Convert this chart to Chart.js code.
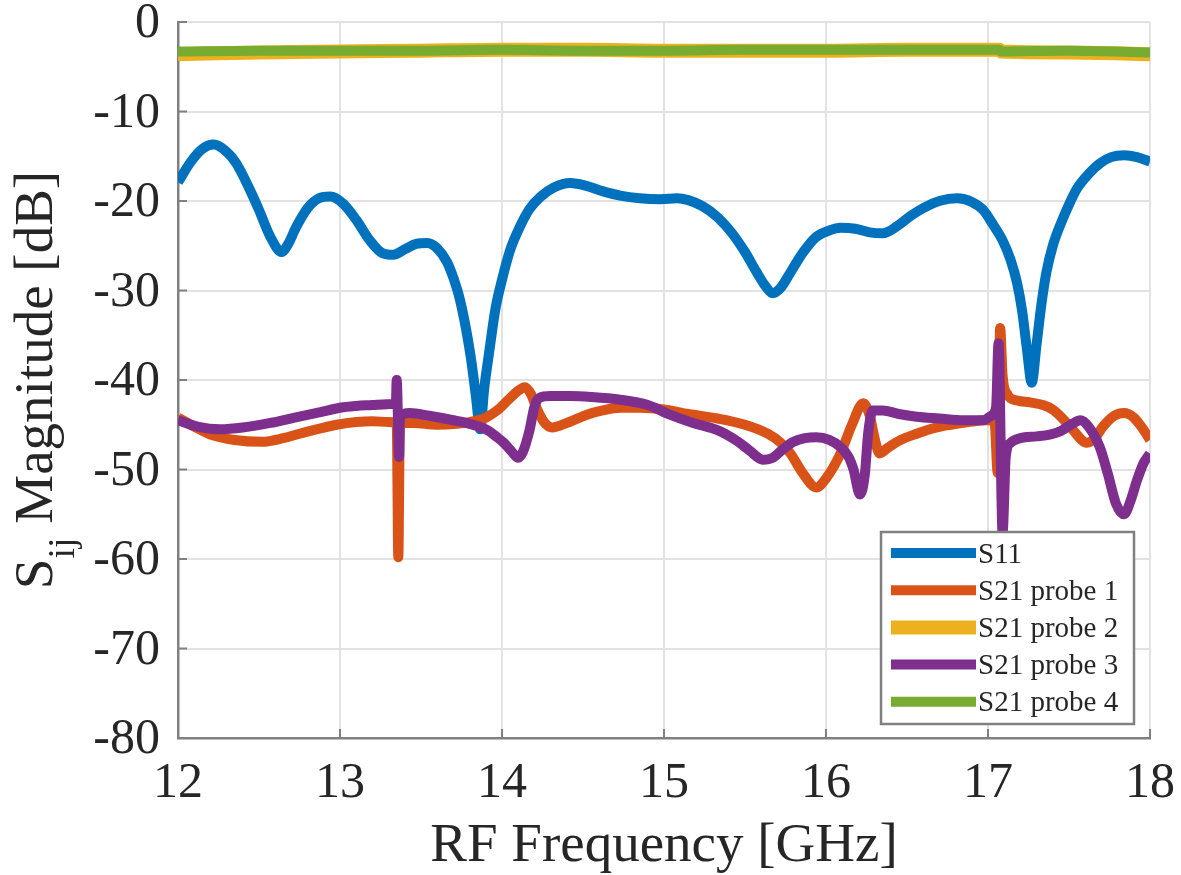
<!DOCTYPE html>
<html>
<head>
<meta charset="utf-8">
<script src="https://cdn.jsdelivr.net/npm/chart.js@4.4.1/dist/chart.umd.min.js"></script>
<style>
  html, body { margin: 0; padding: 0; background: #fff; }
  canvas { display: block; }
</style>
</head>
<body>
<canvas id="sparams" width="1181" height="875"></canvas>
<script>
// values (GHz / dB)
const s11Freq = [12.00, 12.08, 12.15, 12.22, 12.30, 12.36, 12.44, 12.50, 12.57, 12.64, 12.68, 12.73, 12.80, 12.87, 12.94,
  13.02, 13.10, 13.18, 13.26, 13.33, 13.40, 13.47, 13.54, 13.60, 13.66, 13.70, 13.74, 13.78, 13.81, 13.84, 13.865, 13.89,
  13.92, 13.96, 14.00, 14.05, 14.11, 14.17, 14.24, 14.32, 14.42, 14.52, 14.62, 14.73, 14.85, 14.98, 15.08, 15.15, 15.24,
  15.33, 15.42, 15.50, 15.57, 15.63, 15.67, 15.72, 15.78, 15.86, 15.94, 16.02, 16.09, 16.18, 16.27, 16.35, 16.44, 16.52,
  16.60, 16.70, 16.81, 16.90, 16.97, 17.03, 17.09, 17.14, 17.18, 17.21, 17.24, 17.27, 17.30, 17.33, 17.36, 17.40, 17.45,
  17.50, 17.55, 17.62, 17.69, 17.76, 17.84, 17.92, 18.00];
const s11Db = [-17.9, -15.6, -14.2, -13.7, -14.5, -15.8, -18.6, -21.0, -24.0, -25.7, -24.8, -22.9, -20.8, -19.7, -19.5,
  -20.3, -22.1, -24.3, -25.8, -26.0, -25.4, -24.8, -24.7, -25.3, -26.8, -28.6, -31.0, -34.5, -37.8, -42.0, -45.5, -41.0,
  -37.0, -32.0, -28.8, -25.5, -22.9, -20.9, -19.5, -18.5, -18.0, -18.3, -18.9, -19.4, -19.7, -19.8, -19.7, -19.9, -20.6,
  -21.8, -23.6, -25.7, -27.9, -29.6, -30.3, -29.7, -28.0, -25.7, -24.0, -23.3, -23.0, -23.1, -23.5, -23.6, -22.8, -21.7,
  -20.8, -20.0, -19.7, -20.1, -21.0, -22.6, -24.4, -26.6, -29.2, -32.2, -36.5, -40.3, -36.0, -31.5, -28.0, -25.0, -22.5,
  -20.4, -18.6, -17.0, -15.8, -15.1, -14.9, -15.1, -15.6];

const probe1Freq = [12.00, 12.10, 12.20, 12.35, 12.52, 12.65, 12.77, 12.88, 12.98, 13.10, 13.20, 13.30, 13.35, 13.36, 13.37,
  13.45, 13.60, 13.72, 13.80, 13.90, 13.97, 14.04, 14.10, 14.14, 14.18, 14.21, 14.26, 14.31, 14.40, 14.52, 14.62, 14.73,
  14.85, 15.00, 15.15, 15.33, 15.50, 15.64, 15.72, 15.78, 15.86, 15.94, 16.00, 16.09, 16.16, 16.23, 16.27, 16.30, 16.33,
  16.38, 16.45, 16.56, 16.66, 16.77, 16.88, 16.99, 17.04, 17.06, 17.075, 17.09, 17.12, 17.18, 17.26, 17.34, 17.40, 17.45,
  17.52, 17.61, 17.66, 17.71, 17.78, 17.84, 17.90, 17.95, 18.00];
const probe1Db = [-44.2, -45.2, -46.1, -46.7, -46.9, -46.5, -45.9, -45.4, -45.0, -44.7, -44.6, -44.7, -44.8, -59.8, -44.8,
  -44.8, -45.0, -44.9, -44.7, -44.2, -43.4, -42.2, -41.2, -40.8, -41.6, -43.0, -44.7, -45.3, -44.8, -43.9, -43.4, -43.1,
  -43.1, -43.3, -43.8, -44.3, -45.0, -46.0, -47.0, -48.2, -50.5, -52.0, -51.0, -48.2, -45.0, -42.6, -44.0, -46.5, -48.2,
  -47.6, -46.8, -46.0, -45.4, -45.0, -44.7, -44.5, -44.6, -50.4, -34.2, -39.5, -41.6, -42.3, -42.5, -42.8, -43.3, -44.1,
  -45.5, -47.0, -46.5, -45.2, -44.0, -43.7, -44.2, -45.3, -46.7];

const probe2Freq = [12.0, 12.5, 13.0, 13.5, 14.0, 14.5, 15.0, 15.5, 16.0, 16.5, 17.0, 17.07, 17.08, 17.5, 18.0];
const probe2Db = [-3.6, -3.4, -3.3, -3.2, -3.1, -3.1, -3.2, -3.2, -3.2, -3.1, -3.1, -3.1, -3.3, -3.4, -3.6];

const probe3Freq = [12.00, 12.12, 12.26, 12.40, 12.57, 12.72, 12.88, 13.00, 13.10, 13.20, 13.29, 13.345, 13.35, 13.365,
  13.37, 13.43, 13.55, 13.70, 13.80, 13.91, 13.97, 14.01, 14.06, 14.10, 14.13, 14.17, 14.20, 14.23, 14.30, 14.42, 14.55,
  14.73, 14.90, 15.04, 15.18, 15.33, 15.45, 15.53, 15.61, 15.67, 15.73, 15.80, 15.87, 15.94, 16.02, 16.09, 16.14, 16.17,
  16.21, 16.24, 16.26, 16.29, 16.35, 16.45, 16.56, 16.70, 16.85, 16.97, 17.02, 17.05, 17.065, 17.09, 17.11, 17.14, 17.20,
  17.30, 17.38, 17.45, 17.52, 17.57, 17.62, 17.69, 17.74, 17.79, 17.84, 17.88, 17.92, 17.96, 18.00];
const probe3Db = [-44.5, -45.2, -45.5, -45.3, -44.8, -44.2, -43.6, -43.1, -42.9, -42.8, -42.7, -42.6, -40.0, -48.6,
  -44.0, -43.7, -44.0, -44.5, -44.9, -45.6, -46.4, -47.0, -48.0, -48.7, -48.0, -45.6, -43.0, -42.0, -41.8, -41.8, -41.9,
  -42.2, -42.8, -43.9, -44.8, -45.6, -46.8, -47.9, -48.9, -48.7, -47.8, -46.9, -46.5, -46.4, -46.7, -47.5, -48.6, -50.0,
  -52.8, -50.5, -46.0, -43.4, -43.4, -43.8, -44.1, -44.3, -44.5, -44.5, -44.0, -43.0, -35.9, -57.0, -48.5, -47.0, -46.5,
  -46.3, -46.1, -45.7, -44.9, -44.5, -45.2, -47.5, -50.5, -53.8, -55.0, -53.5, -51.2, -49.3, -48.2];

const probe4Freq = [12.0, 12.5, 13.0, 13.5, 14.0, 14.5, 15.0, 15.5, 16.0, 16.5, 17.0, 17.07, 17.08, 17.5, 18.0];
const probe4Db = [-3.3, -3.2, -3.2, -3.2, -3.1, -3.2, -3.2, -3.1, -3.1, -3.1, -3.1, -3.1, -3.3, -3.2, -3.4];

const seriesNames = ['S11', 'S21 probe 1', 'S21 probe 2', 'S21 probe 3', 'S21 probe 4'];
const seriesColors = ['#0072BD', '#D95319', '#EDB120', '#7E2F8E', '#77AC30'];

const serif = "'Liberation Serif', 'Times New Roman', serif";
const textColor = '#262626';
const axisColor = '#808080';

function toPoints(freq, db) {
  return freq.map(function (f, i) { return { x: f, y: db[i] }; });
}

// small inward tick marks, like the MATLAB axes
const innerTicks = {
  id: 'innerTicks',
  afterDraw(chart) {
    const ctx = chart.ctx;
    const a = chart.chartArea;
    ctx.save();
    ctx.strokeStyle = axisColor;
    ctx.lineWidth = 2;
    chart.scales.y.ticks.forEach(function (t) {
      const py = chart.scales.y.getPixelForValue(t.value);
      ctx.beginPath(); ctx.moveTo(a.left, py); ctx.lineTo(a.left + 9, py); ctx.stroke();
    });
    chart.scales.x.ticks.forEach(function (t) {
      const px = chart.scales.x.getPixelForValue(t.value);
      ctx.beginPath(); ctx.moveTo(px, a.bottom); ctx.lineTo(px, a.bottom - 9); ctx.stroke();
    });
    ctx.restore();
  }
};

// y title with the ij subscript
const yTitle = {
  id: 'yTitle',
  afterDraw(chart) {
    const ctx = chart.ctx;
    const a = chart.chartArea;
    const big = '55px ' + serif;
    const small = '38px ' + serif;
    ctx.save();
    ctx.font = big;
    const wS = ctx.measureText('S').width;
    const wRest = ctx.measureText(' Magnitude [dB]').width;
    ctx.font = small;
    const wSub = ctx.measureText('ij').width;
    const total = wS + wSub + wRest;
    ctx.translate(52, (a.top + a.bottom) / 2);
    ctx.rotate(-Math.PI / 2);
    ctx.fillStyle = textColor;
    ctx.textBaseline = 'alphabetic';
    let x = -total / 2;
    ctx.font = big; ctx.fillText('S', x, 0); x += wS;
    ctx.font = small; ctx.fillText('ij', x, 22); x += wSub;
    ctx.font = big; ctx.fillText(' Magnitude [dB]', x, 0);
    ctx.restore();
  }
};

// boxed legend inside the plot, bottom right
const boxLegend = {
  id: 'boxLegend',
  afterDraw(chart) {
    const ctx = chart.ctx;
    const a = chart.chartArea;
    const w = 253, h = 192;
    const bx = a.right - 16 - w, by = a.bottom - 14 - h;
    ctx.save();
    ctx.fillStyle = '#fff';
    ctx.fillRect(bx, by, w, h);
    ctx.strokeStyle = axisColor;
    ctx.lineWidth = 2.5;
    ctx.strokeRect(bx, by, w, h);
    ctx.font = '29px ' + serif;
    ctx.textBaseline = 'middle';
    ctx.fillStyle = textColor;
    chart.data.datasets.forEach(function (ds, i) {
      const cy = by + 21 + i * 37.2;
      ctx.strokeStyle = ds.borderColor;
      ctx.lineWidth = ds.borderWidth;
      ctx.beginPath(); ctx.moveTo(bx + 10, cy); ctx.lineTo(bx + 95, cy); ctx.stroke();
      ctx.fillText(ds.label, bx + 97, cy + 2);
    });
    ctx.restore();
  }
};

document.addEventListener('DOMContentLoaded', function () {
  const ctx = document.getElementById('sparams').getContext('2d');

  const freqs = [s11Freq, probe1Freq, probe2Freq, probe3Freq, probe4Freq];
  const dbs = [s11Db, probe1Db, probe2Db, probe3Db, probe4Db];
  const widths = [10, 10, 14, 10, 10];
  const drawOrder = [5, 4, 3, 2, 1]; // last plotted ends up on top

  const datasets = seriesNames.map(function (name, i) {
    return {
      label: name,
      data: toPoints(freqs[i], dbs[i]),
      borderColor: seriesColors[i],
      backgroundColor: seriesColors[i],
      borderWidth: widths[i],
      pointRadius: 0,
      cubicInterpolationMode: 'monotone',
      order: drawOrder[i]
    };
  });

  new Chart(ctx, {
    type: 'line',
    data: { datasets: datasets },
    options: {
      responsive: false,
      animation: false,
      layout: { padding: { top: 22, right: 31, left: 0, bottom: 0 } },
      plugins: { legend: { display: false }, tooltip: { enabled: false } },
      scales: {
        x: {
          type: 'linear',
          min: 12,
          max: 18,
          ticks: { stepSize: 1, padding: 21, maxRotation: 0, color: textColor, font: { family: serif, size: 50, lineHeight: 1 } },
          grid: { color: '#e2e2e2', lineWidth: 2, drawTicks: false },
          border: { display: true, color: axisColor, width: 2.5 },
          title: {
            display: true,
            text: 'RF Frequency [GHz]',
            color: textColor,
            font: { family: serif, size: 55, lineHeight: 1.2 },
            padding: { top: 0, bottom: -5 }
          },
          afterFit: function (scale) {
            scale.height = 137;
            scale.paddingLeft = 0;
            scale.paddingRight = 0;
          }
        },
        y: {
          type: 'linear',
          min: -80,
          max: 0,
          ticks: { stepSize: 10, padding: 18, labelOffset: 2, color: textColor, font: { family: serif, size: 50, lineHeight: 0.8 } },
          grid: { color: '#e2e2e2', lineWidth: 2, drawTicks: false },
          border: { display: true, color: axisColor, width: 2.5 },
          afterFit: function (scale) {
            scale.width = 178;
            scale.paddingTop = 0;
            scale.paddingBottom = 0;
          }
        }
      }
    },
    plugins: [innerTicks, yTitle, boxLegend]
  });
});
</script>
</body>
</html>
